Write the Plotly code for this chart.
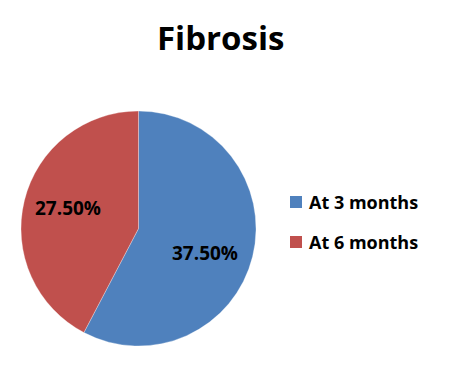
import plotly.graph_objects as go

title = "Fibrosis"
labels = ["At 3 months", "At 6 months"]
values = [37.5, 27.5]
colors = ["#4F81BD", "#C0504D"]

W, H = 450, 366
FONT = "Open Sans"

fig = go.Figure()
fig.add_trace(go.Pie(
    labels=labels, values=values, sort=False, direction="clockwise", rotation=0,
    marker=dict(colors=colors, line=dict(color="rgba(255,255,255,0.6)", width=0.5)),
    textinfo="none", hoverinfo="label+value", showlegend=False,
    domain=dict(x=[21 / W, 256 / W], y=[1 - 346 / H, 1 - 111 / H]),
))

def px(x): return x / W
def py(y): return 1 - y / H

ann = [dict(text=f"<b>{title}</b>", x=px(220), y=py(37), xref="paper", yref="paper",
            showarrow=False, xanchor="center", yanchor="middle",
            font=dict(family=FONT, size=33, color="black"))]
# data labels
label_pos = [(205, 253), (68, 208)]
for v, (lx, ly) in zip(values, label_pos):
    ann.append(dict(text=f"<b>{v:.2f}%</b>", x=px(lx), y=py(ly), xref="paper", yref="paper",
                    showarrow=False, xanchor="center", yanchor="middle",
                    font=dict(family=FONT, size=19, color="black")))

shapes = []
leg_y = [202, 242]
for lab, c, ly in zip(labels, colors, leg_y):
    shapes.append(dict(type="rect", xref="paper", yref="paper",
                       x0=px(290), x1=px(302), y0=py(ly + 6), y1=py(ly - 6),
                       fillcolor=c, line=dict(width=0)))
    ann.append(dict(text=f"<b>{lab}</b>", x=px(307), y=py(ly), xref="paper", yref="paper",
                    showarrow=False, xanchor="left", yanchor="middle",
                    font=dict(family=FONT, size=18, color="black")))

fig.update_layout(width=W, height=H, margin=dict(l=0, r=0, t=0, b=0),
                  paper_bgcolor="white", plot_bgcolor="white",
                  annotations=ann, shapes=shapes)
fig.write_html("out.html")
